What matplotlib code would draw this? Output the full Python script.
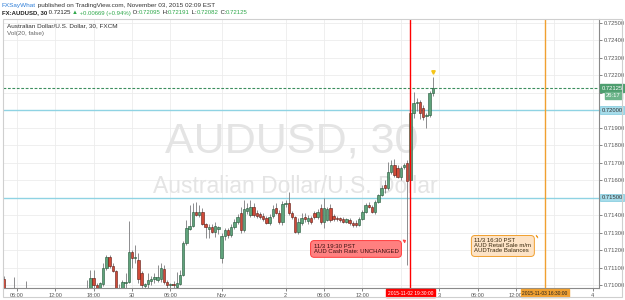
import numpy as np
import pandas as pd
import matplotlib
matplotlib.use("Agg")
import matplotlib.pyplot as plt
from matplotlib.patches import Rectangle

plt.rcParams["font.family"] = ["Liberation Sans", "DejaVu Sans"]

# =========================
# 1. DATA (AUDUSD, 30 min, prices in 1e-5)
# =========================

opens = [71035, 70955, 70915, 70930, 70960, 70920, 70940, 70950, 70945, 70910,
         70890, 70905, 70895, 70870, 70885, 70910, 70900, 70880, 70895, 70920,
         70910, 70900, 70930, 70925, 70945, 70935,
         70965, 70975, 71040, 71000, 70975, 71006, 71097, 71160, 71109, 71080,
         70970, 70978, 71012, 71017, 71189, 71155, 71143, 71069, 70995, 71006,
         71023, 71035, 71029, 71035, 71092, 71017, 71000, 71006, 70990, 71006,
         71058, 71240, 71320, 71337, 71417, 71400, 71417, 71349, 71320, 71332,
         71303, 71320,
         71155, 71280, 71315, 71286, 71332, 71360, 71412, 71315, 71423, 71400,
         71446, 71412, 71406, 71395, 71383, 71355, 71395, 71440, 71412, 71360,
         71463, 71469, 71412, 71389, 71303, 71355, 71389, 71366, 71383, 71412,
         71389, 71440, 71360, 71372, 71440, 71395, 71383, 71383, 71377, 71360,
         71372, 71355, 71355, 71343, 71377, 71417, 71458, 71446, 71417, 71475,
         71515, 71572, 71555, 71646, 71686, 71669, 71617, 71675, 71697, 71600,
         71983, 72040, 72046, 72012, 71966, 71972, 72095]
highs = [71050, 70975, 70940, 71046, 70970, 70950, 70965, 71023, 70960, 70935,
         70920, 70930, 70910, 70900, 70920, 70935, 70915, 70905, 70930, 70945,
         70925, 70940, 70955, 70950, 70965, 70970,
         71029, 71086, 71086, 71012, 71017, 71126, 71172, 71172, 71126, 71086,
         71006, 71029, 71069, 71366, 71200, 71229, 71183, 71080, 71012, 71069,
         71052, 71069, 71115, 71126, 71115, 71029, 71012, 71023, 71075, 71086,
         71252, 71372, 71458, 71469, 71475, 71458, 71440, 71355, 71349, 71349,
         71360, 71337,
         71297, 71326, 71326, 71349, 71377, 71406, 71446, 71486, 71469, 71486,
         71469, 71429, 71417, 71412, 71395, 71406, 71458, 71469, 71429, 71480,
         71486, 71532, 71423, 71395, 71383, 71412, 71412, 71400, 71395, 71423,
         71435, 71463, 71498, 71446, 71463, 71406, 71395, 71389, 71389, 71383,
         71383, 71366, 71372, 71389, 71429, 71469, 71475, 71458, 71486, 71520,
         71572, 71600, 71703, 71715, 71720, 71686, 71680, 71697, 71715, 72130,
         72103, 72069, 72058, 72029, 71983, 72110, 72191]
lows = [70935, 70900, 70880, 70910, 70905, 70895, 70920, 70930, 70900, 70880,
        70870, 70885, 70860, 70855, 70875, 70895, 70870, 70860, 70885, 70900,
        70890, 70890, 70915, 70905, 70925, 70920,
        70945, 70960, 70983, 70955, 70965, 70995, 71086, 71097, 71075, 70950,
        70945, 70966, 70983, 71012, 71097, 71126, 71012, 70978, 70978, 70978,
        71000, 71012, 71017, 71017, 71006, 70972, 70972, 70978, 70972, 71000,
        71052, 71229, 71315, 71332, 71395, 71389, 71343, 71269, 71269, 71297,
        71275, 71292,
        71126, 71258, 71269, 71275, 71320, 71349, 71297, 71303, 71406, 71389,
        71389, 71383, 71377, 71366, 71349, 71343, 71383, 71406, 71349, 71343,
        71446, 71400, 71377, 71297, 71292, 71343, 71360, 71349, 71349, 71377,
        71377, 71349, 71326, 71366, 71360, 71366, 71366, 71360, 71355, 71355,
        71343, 71332, 71332, 71337, 71372, 71412, 71440, 71412, 71406, 71469,
        71509, 71526, 71543, 71635, 71617, 71612, 71600, 71663, 71115, 71583,
        71955, 71995, 71950, 71943, 71897, 71960, 72082]
closes = [70955, 70915, 70930, 70960, 70920, 70940, 70950, 70945, 70910, 70890,
          70905, 70895, 70870, 70885, 70910, 70900, 70880, 70895, 70920, 70910,
          70900, 70930, 70925, 70945, 70935, 70960,
          70975, 71040, 71000, 70975, 71012, 71097, 71160, 71109, 71080, 70970,
          70978, 71017, 71017, 71189, 71155, 71160, 71035, 71000, 71006, 71029,
          71035, 71046, 71046, 71097, 71017, 71000, 71006, 71000, 71012, 71058,
          71240, 71326, 71337, 71417, 71400, 71417, 71349, 71332, 71332, 71303,
          71337, 71332,
          71280, 71315, 71286, 71332, 71360, 71389, 71315, 71435, 71440, 71446,
          71400, 71395, 71389, 71377, 71355, 71389, 71435, 71412, 71360, 71463,
          71469, 71412, 71389, 71303, 71360, 71383, 71377, 71383, 71360, 71389,
          71417, 71360, 71440, 71435, 71372, 71377, 71377, 71372, 71360, 71377,
          71355, 71343, 71343, 71377, 71417, 71458, 71446, 71417, 71475, 71515,
          71555, 71555, 71646, 71686, 71629, 71617, 71669, 71686, 71595, 71983,
          72040, 72046, 71983, 71960, 71972, 72098, 72125]

# 30-min bars in PST, weekend gap removed
bar_times = pd.date_range("2015-10-29 04:00", "2015-10-30 13:30", freq="30min").append(
    pd.date_range("2015-11-01 14:00", "2015-11-02 23:00", freq="30min"))

tick_times = ["2015-10-29 06:00", "2015-10-29 12:00", "2015-10-29 18:00", "2015-10-30 00:00",
              "2015-10-30 06:00", "2015-11-01 14:00", "2015-11-02 00:00", "2015-11-02 06:00",
              "2015-11-02 12:00", "2015-11-02 18:00", "2015-11-03 00:00", "2015-11-03 06:00",
              "2015-11-03 12:00", "2015-11-03 18:00", "2015-11-04 00:00"]
tick_labels = ["06:00", "12:00", "18:00", "30", "06:00", "Nov", "2", "06:00", "12:00",
               "", "3", "06:00", "12:00", "", "4"]

price_ticks = [0.710, 0.711, 0.712, 0.713, 0.714, 0.715, 0.716, 0.717,
               0.718, 0.719, 0.720, 0.721, 0.722, 0.723, 0.724, 0.725]
hlines = [0.72000, 0.71500]
last_price = 0.72125
countdown = "26:17"

events = ["2015-11-02 19:30", "2015-11-03 16:30"]
event_labels = ["2015-11-02 19:30:00", "2015-11-03 16:30:00"]
event_notes = ["11/3 19:30 PST\nAUD Cash Rate: UNCHANGED",
               "11/3 16:30 PST\nAUD Retail Sale m/m\nAUDTrade Balances"]

o = np.array(opens) / 1e5
h = np.array(highs) / 1e5
l = np.array(lows) / 1e5
c = np.array(closes) / 1e5
n = len(o)


def to_idx(t):
    t = pd.Timestamp(t)
    if t <= bar_times[-1]:
        return int(bar_times.searchsorted(t))
    return n - 1 + (t - bar_times[-1]) / pd.Timedelta("30min")


# =========================
# 2. FIGURE
# =========================

fig = plt.figure(figsize=(6.25, 3.0), dpi=100)
ax = fig.add_axes([3 / 625, 12 / 300, 596 / 625, 269 / 300])

up_c, dn_c = "#5fa37b", "#d04a38"
up_e, dn_e = "#225437", "#5b1a13"
idx = np.arange(n)
up = c >= o

ax.vlines(idx, l, h, color="#7a7a7c", lw=0.6, zorder=3)
bottoms = np.minimum(o, c)
heights = np.maximum(np.abs(c - o), 0.000015)
ax.bar(idx[up], heights[up], bottom=bottoms[up], width=0.72,
       color=up_c, edgecolor=up_e, lw=0.4, zorder=4)
ax.bar(idx[~up], heights[~up], bottom=bottoms[~up], width=0.72,
       color=dn_c, edgecolor=dn_e, lw=0.4, zorder=4)

ax.plot(n - 1, h[-1] + 0.00026, marker="v", color="#f5c518", ms=2.5, zorder=5)

# horizontal levels
for y in hlines:
    ax.axhline(y, color="#8fd3e3", lw=1.0, zorder=2)
ax.axhline(last_price, color="#3d8f5f", lw=0.8, ls=(0, (2.5, 1.5)), zorder=2)

# event lines
ev_x = [to_idx(t) for t in events]
ax.axvline(ev_x[0], color="#ff0000", lw=1.0, zorder=6)
ax.axvline(ev_x[1], color="#f0a030", lw=1.0, zorder=6)

# axes
x0 = -0.3125
ax.set_xlim(x0, x0 + 596 / 3.2)
ax.set_ylim(0.709829, 0.725200)

tick_x = [to_idx(t) for t in tick_times]
ax.set_xticks(tick_x)
ax.set_xticklabels(tick_labels)
# labels hidden behind the price boxes on the right
covered = [0.721, 0.720, 0.715]
ax.set_yticks(price_ticks)
ax.set_yticklabels(["" if v in covered else f"{v:.5f}" for v in price_ticks])
ax.yaxis.tick_right()
ax.tick_params(axis="both", labelsize=4.2, colors="#555555", length=2, width=0.5, pad=1.5)
ax.tick_params(axis="x", labelsize=4.0)
ax.grid(True, color="#ececec", lw=0.6, zorder=0)
ax.set_axisbelow(True)

for s in ["top", "left"]:
    ax.spines[s].set_visible(False)
for s in ["right", "bottom"]:
    ax.spines[s].set_color("#8a8a8a")
    ax.spines[s].set_linewidth(0.8)

# watermark
ax.text(0.485, 0.545, "AUDUSD, 30", transform=ax.transAxes, ha="center", va="center",
        fontsize=31, color="#e4e4e4", zorder=1)
ax.text(0.49, 0.378, "Australian Dollar/U.S. Dollar", transform=ax.transAxes,
        ha="center", va="center", fontsize=16.5, color="#e4e4e4", zorder=1)

# right axis labels
ytr = ax.get_yaxis_transform()
ax.text(1.004, last_price, f"{last_price:.5f}", transform=ytr, fontsize=4.2, color="white",
        va="center", ha="left", zorder=10, clip_on=False,
        bbox=dict(boxstyle="square,pad=0.25", fc="#4e9e6f", ec="#4e9e6f"))
ax.text(1.012, last_price - 0.00044, countdown, transform=ytr, fontsize=4.2, color="white",
        va="center", ha="left", zorder=10, clip_on=False,
        bbox=dict(boxstyle="square,pad=0.2", fc="#6cb48a", ec="#6cb48a"))
for y in hlines:
    ax.text(1.004, y, f"{y:.5f}", transform=ytr, fontsize=4.2, color="#333333",
            va="center", ha="left", zorder=10, clip_on=False,
            bbox=dict(boxstyle="square,pad=0.25", fc="#a6dcea", ec="#7cc8dc", lw=0.5))

# event labels on time axis
xtr = ax.get_xaxis_transform()
ax.text(ev_x[0], -0.019, event_labels[0], transform=xtr, fontsize=3.5, color="white",
        ha="center", va="center", zorder=10, clip_on=False,
        bbox=dict(boxstyle="square,pad=0.3", fc="#ff0000", ec="#ff0000"))
ax.text(ev_x[1], -0.019, event_labels[1], transform=xtr, fontsize=3.5, color="#222222",
        ha="center", va="center", zorder=10, clip_on=False,
        bbox=dict(boxstyle="square,pad=0.3", fc="#f0a030", ec="#f0a030"))

# callouts
ax.annotate(event_notes[0], xy=(126.2, 0.71263), xytext=(110.0, 0.71206),
            fontsize=4.3, color="#3a1010", ha="center", va="center", ma="left", zorder=9,
            bbox=dict(boxstyle="round,pad=0.5,rounding_size=0.6", fc="#ff8080", ec="#ff3b3b", lw=0.7),
            arrowprops=dict(arrowstyle="wedge,tail_width=0.5,shrink_factor=0.5",
                            fc="#ff8080", ec="#ff3b3b", lw=0.7, relpos=(0.98, 0.8)))
ax.annotate(event_notes[1], xy=(166.6, 0.71277), xytext=(155.9, 0.71223),
            fontsize=4.3, color="#3a2a10", ha="center", va="center", ma="left", zorder=9,
            linespacing=1.0,
            bbox=dict(boxstyle="round,pad=0.5,rounding_size=0.6", fc="#fde3c6", ec="#f0a030", lw=0.7),
            arrowprops=dict(arrowstyle="wedge,tail_width=0.5,shrink_factor=0.5",
                            fc="#fde3c6", ec="#f0a030", lw=0.7, relpos=(0.98, 0.85)))

# chart frame
fig.patches.append(Rectangle((3 / 625, 3 / 300), 619 / 625, 278 / 300, transform=fig.transFigure,
                             fill=False, ec="#cfcfcf", lw=0.8))

# =========================
# 3. HEADER TEXT
# =========================

renderer = fig.canvas.get_renderer()


def draw_pieces(pieces, x, y, size):
    for s, color, weight in pieces:
        t = fig.text(x, y, s, color=color, fontsize=size, fontweight=weight, va="center")
        x += t.get_window_extent(renderer=renderer).width / fig.bbox.width


grn = "#2ea84a"
dark = "#222222"
draw_pieces([("FXSayWhat", "#2f7fd8", "normal"),
             (" published on TradingView.com, November 03, 2015 02:09 EST", "#333333", "normal")],
            2 / 625, 1 - 5 / 300, 4.6)
draw_pieces([("FX:AUDUSD, 30", dark, "bold"), (" 0.72125 ", dark, "normal"),
             ("▲", grn, "normal"), (" +0.00669 (+0.94%)", grn, "normal"),
             (" O:", dark, "normal"), ("0.72095", grn, "normal"),
             (" H:", dark, "normal"), ("0.72191", grn, "normal"),
             (" L:", dark, "normal"), ("0.72082", grn, "normal"),
             (" C:", dark, "normal"), ("0.72125", grn, "normal")],
            2 / 625, 1 - 13 / 300, 4.3)

fig.text(7 / 625, 1 - 26 / 300, "Australian Dollar/U.S. Dollar, 30, FXCM", fontsize=4.6,
         color="#333333", va="center")
fig.text(7 / 625, 1 - 33.5 / 300, "Vol(20, false)", fontsize=4.6, color="#666666", va="center")

fig.savefig("out.png", dpi=100, facecolor="white")
